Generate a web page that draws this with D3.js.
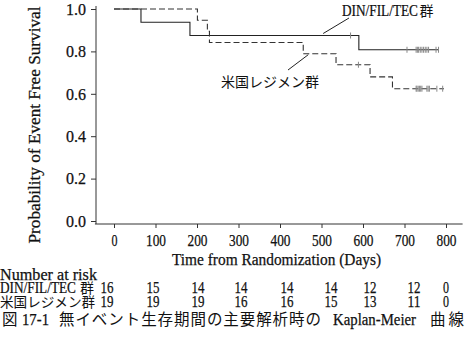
<!DOCTYPE html>
<html>
<head>
<meta charset="utf-8">
<script src="https://cdn.jsdelivr.net/npm/d3@7"></script>
<style>
  html, body { margin: 0; padding: 0; background: #fff; }
  svg { display: block; }
</style>
</head>
<body>
<svg id="chart" width="466" height="342"></svg>
<script>
// Kaplan-Meier step values (day, survival after the step)
const dinSteps = [[0, 1.0], [65, 0.9375], [183, 0.875], [590, 0.8077]];
const dinEnd = 782;
const dinCensored = [570, 706, 728, 731, 734, 738, 742, 746, 750, 754, 758, 776, 782];

const usSteps = [[0, 1.0], [201, 0.947], [225, 0.895], [230, 0.842], [456, 0.789], [535, 0.737], [617, 0.680], [671, 0.624]];
const usEnd = 795;
const usCensored = [589, 728, 730, 733, 736, 739, 742, 754, 757, 760, 778, 792];

// Axis ticks
const xTicks = [0, 100, 200, 300, 400, 500, 600, 700, 800];
const yTicks = [0.0, 0.2, 0.4, 0.6, 0.8, 1.0];

// Number at risk table
const riskDays = [0, 100, 200, 300, 400, 500, 600, 700, 800];
const dinRisk = [16, 15, 14, 14, 14, 14, 12, 12, 0];
const usRisk = [19, 19, 19, 16, 16, 15, 13, 11, 0];
const groupNames = ["DIN/FIL/TEC", "米国レジメン"];

const latin = "'Liberation Serif', 'Times New Roman', serif";
const cjk = "'Noto Sans CJK JP', 'Noto Sans CJK SC', sans-serif";
const ink = "#111";
const latinSize = 16.5;
const pitch = 7; // half-width character advance

// Half-width text: fixed advance per character
function mono(sel) {
  sel.attr("font-family", latin).attr("font-size", latinSize).attr("fill", ink)
    .attr("stroke", ink).attr("stroke-width", 0.25)
    .attr("lengthAdjust", "spacingAndGlyphs")
    .attr("textLength", function () { return this.textContent.length * pitch - 1; });
  return sel;
}
// Half-width text placed at (px, py): a smaller font fills the cells,
// then a vertical stretch restores the glyph height
function fitted(sel, px, py) {
  sel.attr("font-family", latin).attr("font-size", latinSize).attr("fill", ink)
    .attr("stroke", ink).attr("stroke-width", 0.2)
    .attr("x", 0).attr("y", 0);
  sel.each(function () {
    const target = this.textContent.length * pitch - 1;
    const natural = this.getComputedTextLength();
    const k = target / natural;
    d3.select(this)
      .attr("font-size", latinSize * k)
      .attr("transform", `translate(${px},${py}) scale(1,${1 / k})`);
  });
  return sel;
}

const svg = d3.select("#chart");

const x = d3.scaleLinear().domain([0, 800]).range([114, 446]);
const y = d3.scaleLinear().domain([0, 1]).range([221, 9]);

// Axes
const yAxis = d3.axisLeft(y).tickValues(yTicks).tickFormat(d3.format(".1f"))
  .tickSize(5).tickPadding(5);
const gy = svg.append("g").attr("transform", "translate(96,0)").call(yAxis);
gy.select(".domain").remove();

const xAxis = d3.axisBottom(x).tickValues(xTicks).tickFormat(d3.format("d"))
  .tickSize(4).tickPadding(6);
const gx = svg.append("g").attr("transform", `translate(0,${y(-0.0142)})`).call(xAxis);
gx.select(".domain").remove();

[gx, gy].forEach(g => {
  g.selectAll("line").attr("stroke", "#333");
  mono(g.selectAll("text"));
});

// Axis lines
svg.append("line")
  .attr("x1", 96).attr("x2", 96)
  .attr("y1", y(1.0142)).attr("y2", y(-0.0142))
  .attr("stroke", "#333");
svg.append("line")
  .attr("x1", x(-46)).attr("x2", x(840))
  .attr("y1", y(-0.0142)).attr("y2", y(-0.0142))
  .attr("stroke", "#333");

// Step curves
function stepPoints(steps, end) {
  const pts = steps.map(s => [s[0], s[1]]);
  pts.push([end, steps[steps.length - 1][1]]);
  return pts;
}
function survivalAt(steps, t) {
  let v = steps[0][1];
  steps.forEach(s => { if (s[0] <= t) v = s[1]; });
  return v;
}
const line = d3.line().x(d => x(d[0])).y(d => y(d[1])).curve(d3.curveStepAfter);

svg.append("path")
  .datum(stepPoints(dinSteps, dinEnd))
  .attr("d", line)
  .attr("fill", "none")
  .attr("stroke", "#222")
  .attr("stroke-width", 1.1);

svg.append("path")
  .datum(stepPoints(usSteps, usEnd))
  .attr("d", line)
  .attr("fill", "none")
  .attr("stroke", "#333")
  .attr("stroke-width", 1.1)
  .attr("stroke-dasharray", "6,3");

// Censor marks
function censorTicks(times, steps) {
  svg.append("g").selectAll("line")
    .data(times)
    .join("line")
    .attr("x1", d => x(d)).attr("x2", d => x(d))
    .attr("y1", d => y(survivalAt(steps, d)) - 3)
    .attr("y2", d => y(survivalAt(steps, d)) + 3)
    .attr("stroke", "#888")
    .attr("stroke-width", 1);
}
censorTicks(dinCensored, dinSteps);
censorTicks(usCensored, usSteps);

// Curve labels with leader lines
fitted(svg.append("text").text(groupNames[0]), 342, 16);
svg.append("text").attr("x", 419.5).attr("y", 16)
  .attr("font-family", cjk).attr("font-size", 14).attr("fill", ink).text("群");
svg.append("line")
  .attr("x1", x(504)).attr("y1", y(0.875) - 2)
  .attr("x2", 349).attr("y2", 18)
  .attr("stroke", "#222");

svg.append("text").attr("x", 221).attr("y", 87)
  .attr("font-family", cjk).attr("font-size", 14).attr("fill", ink)
  .text(groupNames[1] + "群");
svg.append("line")
  .attr("x1", x(468)).attr("y1", y(0.789) + 1)
  .attr("x2", 288).attr("y2", 70)
  .attr("stroke", "#222");

// Axis titles
mono(svg.append("text")
  .attr("transform", "translate(39.5,125) rotate(-90)")
  .attr("text-anchor", "middle")
  .text("Probability of Event Free Survival"));

mono(svg.append("text")
  .attr("x", 172).attr("y", 265)
  .text("Time from Randomization (Days)"));

// Number at risk table
mono(svg.append("text").attr("x", 0).attr("y", 280).text("Number at risk"));

const riskCol = [107, 153, 198, 241, 287, 331, 370, 414, 446];
const rows = [
  { name: groupNames[0], risk: dinRisk, base: 293 },
  { name: groupNames[1], risk: usRisk, base: 307 }
];
rows.forEach((r, ri) => {
  if (ri === 0) {
    fitted(svg.append("text").text(r.name), 0, r.base);
    svg.append("text").attr("x", 80).attr("y", r.base)
      .attr("font-family", cjk).attr("font-size", 14).attr("fill", ink).text("群");
  } else {
    svg.append("text").attr("x", 0).attr("y", r.base)
      .attr("font-family", cjk).attr("font-size", 13.6).attr("fill", ink)
      .text(r.name + "群");
  }
  mono(svg.append("g").selectAll("text")
    .data(r.risk)
    .join("text")
    .attr("x", (d, i) => riskCol[i])
    .attr("y", r.base)
    .attr("text-anchor", "middle")
    .text(d => d));
});

// Figure caption
const capCjk = [
  { t: "図", x: 2, w: 0 },
  { t: "無イベント生存期間の主要解析時の", x: 59, w: 262 },
  { t: "曲線", x: 430, w: 34 }
];
const capLatin = [
  { t: "17-1", x: 22 },
  { t: "Kaplan-Meier", x: 333 }
];
capCjk.forEach(p => {
  const t = svg.append("text").attr("x", p.x).attr("y", 325)
    .attr("font-family", cjk).attr("font-size", 15.5).attr("fill", ink).text(p.t);
  if (p.w) t.attr("textLength", p.w).attr("lengthAdjust", "spacing");
});
capLatin.forEach(p => {
  mono(svg.append("text").attr("x", p.x).attr("y", 325).text(p.t));
});
</script>
</body>
</html>
